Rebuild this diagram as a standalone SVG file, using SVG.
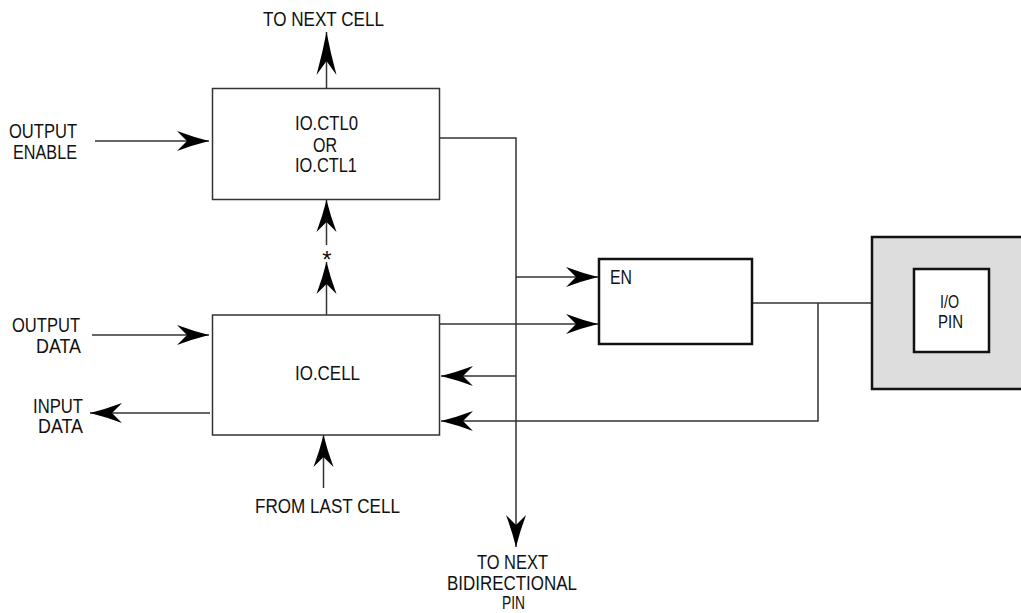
<svg xmlns="http://www.w3.org/2000/svg" width="1021" height="613" viewBox="0 0 1021 613">
<style>
.t{font-family:"Liberation Sans",Arial,sans-serif;font-size:20px;fill:#111}
.s{font-size:18px}
.box{fill:#fff;stroke:#333;stroke-width:1.5}
.hbox{fill:#fff;stroke:#111;stroke-width:2.5}
.w{fill:none;stroke:#333;stroke-width:1.5}
.a{marker-end:url(#arr)}
</style>
<defs>
<marker id="arr" markerUnits="userSpaceOnUse" markerWidth="34" markerHeight="22" refX="32" refY="10" orient="auto" overflow="visible">
<path d="M32,10 Q16,6 0,0 L10,10 L0,20 Q16,14 32,10 Z" fill="#000"/>
</marker>
<marker id="arrL" markerUnits="userSpaceOnUse" markerWidth="44" markerHeight="22" refX="43" refY="10" orient="auto" overflow="visible">
<path d="M43,10 Q22,6 0,0 L14,10 L0,20 Q22,14 43,10 Z" fill="#000"/>
</marker>
</defs>
<rect width="1021" height="613" fill="#fff"/>
<g id="connectors">
<line class="w" x1="326.5" y1="88" x2="326.5" y2="32" marker-end="url(#arrL)"/>
<line class="w a" x1="95" y1="141" x2="209" y2="141"/>
<line class="w a" x1="326.5" y1="245" x2="326.5" y2="200"/>
<line class="w a" x1="326.5" y1="315" x2="326.5" y2="262"/>
<line class="w a" x1="92" y1="335" x2="209" y2="335"/>
<line class="w a" x1="210" y1="413" x2="90" y2="413"/>
<line class="w a" x1="323.5" y1="488" x2="323.5" y2="435"/>
<path class="w a" d="M440,138 H516 V547"/>
<line class="w a" x1="516" y1="277" x2="598" y2="277"/>
<line class="w a" x1="440" y1="324" x2="598" y2="324"/>
<line class="w a" x1="516" y1="376" x2="441" y2="376"/>
<line class="w" x1="752" y1="303" x2="872" y2="303"/>
<path class="w a" d="M818,303 V421 H441"/>
</g>
<g id="labels">
<text class="t" x="263" y="26" textLength="121" lengthAdjust="spacingAndGlyphs">TO NEXT CELL</text>
<text class="t" x="9" y="138" textLength="68" lengthAdjust="spacingAndGlyphs">OUTPUT</text>
<text class="t" x="13" y="159" textLength="64" lengthAdjust="spacingAndGlyphs">ENABLE</text>
<text class="t" x="327" y="268" text-anchor="middle" style="font-size:24px">*</text>
<text class="t" x="12" y="332" textLength="68" lengthAdjust="spacingAndGlyphs">OUTPUT</text>
<text class="t" x="36" y="353" textLength="45" lengthAdjust="spacingAndGlyphs">DATA</text>
<text class="t" x="33" y="413" textLength="50" lengthAdjust="spacingAndGlyphs">INPUT</text>
<text class="t" x="38" y="433" textLength="45" lengthAdjust="spacingAndGlyphs">DATA</text>
<text class="t" x="255" y="513" textLength="145" lengthAdjust="spacingAndGlyphs">FROM LAST CELL</text>
<text class="t" x="477" y="569" textLength="71" lengthAdjust="spacingAndGlyphs">TO NEXT</text>
<text class="t" x="447" y="590" textLength="130" lengthAdjust="spacingAndGlyphs">BIDIRECTIONAL</text>
<text class="t s" x="502" y="609" textLength="23" lengthAdjust="spacingAndGlyphs">PIN</text>
</g>
<g id="ioctl">
<rect class="box" x="212.5" y="88.5" width="227" height="111"/>
<text class="t" x="295" y="130" textLength="63" lengthAdjust="spacingAndGlyphs">IO.CTL0</text>
<text class="t" x="313" y="152" textLength="24" lengthAdjust="spacingAndGlyphs">OR</text>
<text class="t" x="295" y="172" textLength="62" lengthAdjust="spacingAndGlyphs">IO.CTL1</text>
</g>
<g id="iocell">
<rect class="box" x="212.5" y="315" width="227" height="120"/>
<text class="t" x="295" y="380" textLength="65" lengthAdjust="spacingAndGlyphs">IO.CELL</text>
</g>
<g id="en">
<rect class="hbox" x="599" y="259" width="153" height="85"/>
<text class="t" x="610" y="284" textLength="22" lengthAdjust="spacingAndGlyphs">EN</text>
</g>
<g id="iopin">
<rect x="872" y="237" width="170" height="152" fill="#ddd" stroke="#111" stroke-width="2.5"/>
<rect class="hbox" x="914" y="269" width="75" height="83"/>
<text class="t s" x="940" y="308" textLength="19" lengthAdjust="spacingAndGlyphs">I/O</text>
<text class="t s" x="938" y="328" textLength="25" lengthAdjust="spacingAndGlyphs">PIN</text>
</g>
</svg>
